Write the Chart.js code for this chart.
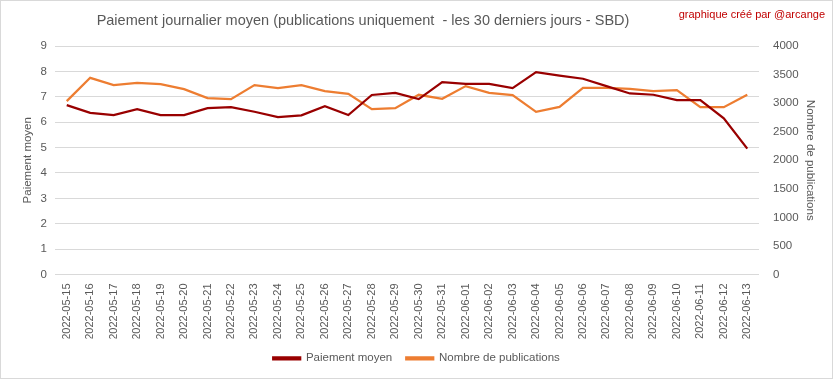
<!DOCTYPE html>
<html>
<head>
<meta charset="utf-8">
<script src="https://cdn.jsdelivr.net/npm/chart.js@4"></script>
<style>
  html, body { margin:0; padding:0; background:#fff; }
  #wrap { width:833px; height:379px; position:relative; }
</style>
</head>
<body>
<div id="wrap"><canvas id="chart" width="833" height="379"></canvas></div>
<script>
const dates = ['2022-05-15','2022-05-16','2022-05-17','2022-05-18','2022-05-19','2022-05-20','2022-05-21','2022-05-22','2022-05-23','2022-05-24',
  '2022-05-25','2022-05-26','2022-05-27','2022-05-28','2022-05-29','2022-05-30','2022-05-31','2022-06-01','2022-06-02','2022-06-03',
  '2022-06-04','2022-06-05','2022-06-06','2022-06-07','2022-06-08','2022-06-09','2022-06-10','2022-06-11','2022-06-12','2022-06-13'];
const paiementMoyen = [6.67, 6.37, 6.28, 6.51, 6.28, 6.28, 6.55, 6.59, 6.41, 6.20,
  6.27, 6.63, 6.28, 7.07, 7.15, 6.91, 7.58, 7.51, 7.51, 7.34,
  7.97, 7.83, 7.71, 7.42, 7.13, 7.08, 6.87, 6.87, 6.15, 4.96];
const nbPublications = [3035, 3443, 3316, 3356, 3333, 3245, 3088, 3070, 3316, 3263,
  3316, 3210, 3163, 2894, 2912, 3146, 3075, 3298, 3181, 3140,
  2847, 2935, 3268, 3268, 3250, 3210, 3228, 2930, 2930, 3146];

const FONT = "'Liberation Sans', Arial, sans-serif";
const GREY = '#595959';

// title, credit and outer frame
const decor = {
  id: 'decor',
  beforeDraw(chart) {
    const c = chart.ctx;
    c.save();
    c.fillStyle = '#fff';
    c.fillRect(0, 0, chart.width, chart.height);
    c.restore();
  },
  afterDraw(chart) {
    const c = chart.ctx;
    c.save();
    c.strokeStyle = '#d9d9d9';
    c.lineWidth = 1;
    c.strokeRect(0.5, 0.5, chart.width - 1, chart.height - 1);
    c.textBaseline = 'middle';
    c.fillStyle = GREY;
    c.font = '14.5px ' + FONT;
    c.textAlign = 'center';
    c.fillText('Paiement journalier moyen (publications uniquement  - les 30 derniers jours - SBD)', 363, 21);
    c.fillStyle = '#c00000';
    c.font = '11px ' + FONT;
    c.textAlign = 'right';
    c.fillText('graphique créé par @arcange', 825, 15);
    c.restore();
  }
};

new Chart(document.getElementById('chart'), {
  type: 'line',
  data: {
    labels: dates,
    datasets: [
      { label: 'Paiement moyen', data: paiementMoyen, yAxisID: 'y',
        borderColor: '#990000', backgroundColor: '#990000', borderWidth: 2.25,
        pointRadius: 0, tension: 0 },
      { label: 'Nombre de publications', data: nbPublications, yAxisID: 'y1',
        borderColor: '#ed7d31', backgroundColor: '#ed7d31', borderWidth: 2.25,
        pointRadius: 0, tension: 0 }
    ]
  },
  options: {
    responsive: false,
    animation: false,
    layout: { padding: { top: 46, bottom: 5 } },
    plugins: {
      legend: {
        position: 'bottom',
        labels: { boxWidth: 27, boxHeight: 2, padding: 14, color: GREY, font: { family: FONT, size: 11.5 } }
      },
      tooltip: { enabled: false }
    },
    scales: {
      x: {
        offset: true,
        grid: { display: false, drawTicks: false },
        border: { display: false },
        ticks: { color: GREY, font: { family: FONT, size: 11 }, minRotation: 90, maxRotation: 90, autoSkip: false, padding: 9 },
        afterFit(s) { s.height = 64; }
      },
      y: {
        position: 'left', min: 0, max: 9,
        ticks: { stepSize: 1, color: GREY, font: { family: FONT, size: 11.5 }, padding: 8 },
        grid: { color: '#d9d9d9', drawTicks: false },
        border: { display: false },
        title: { display: true, text: 'Paiement moyen', color: GREY, font: { family: FONT, size: 11.5 }, padding: { top: 21, bottom: 0 } },
        afterFit(s) { s.width = 55; }
      },
      y1: {
        position: 'right', min: 0, max: 4000,
        ticks: { stepSize: 500, color: GREY, font: { family: FONT, size: 11.5 }, padding: 14, callback: v => String(v) },
        grid: { display: false, drawTicks: false },
        border: { display: false },
        title: { display: true, text: 'Nombre de publications', color: GREY, font: { family: FONT, size: 11.5 }, padding: { top: 16, bottom: 0 } },
        afterFit(s) { s.width = 74; }
      }
    }
  },
  plugins: [decor]
});
</script>
</body>
</html>
